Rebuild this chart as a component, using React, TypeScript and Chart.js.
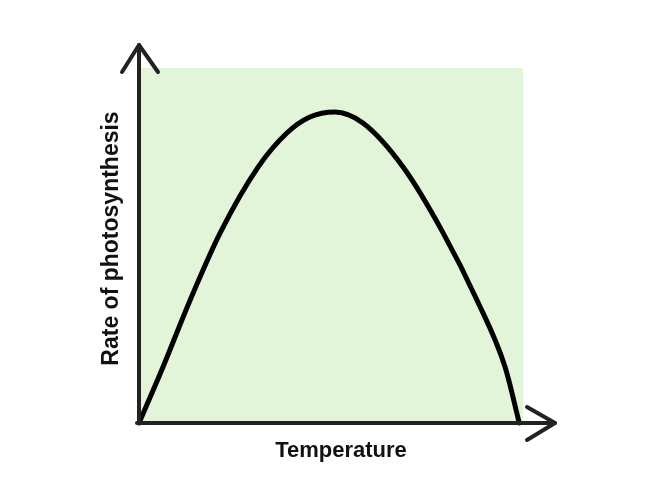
import React, { useEffect, useRef } from "react";
import { Chart, registerables } from "chart.js";

Chart.register(...registerables);

// Curve (arbitrary units: temperature 0-100, rate 0-100)
const temperature = [0, 6.25, 13.3, 21.1, 31.0, 38.5, 44.5, 51.0, 58.3, 68.75, 79.2, 88.0, 95.3, 99.0];
const rate = [0, 15.8, 34.6, 53.5, 72.1, 81.7, 86.2, 87.6, 84.5, 72.1, 53.5, 34.6, 15.8, 0];

const xTitle = "Temperature";
const yTitle = "Rate of photosynthesis";

const X_MAX = 108.3; // arrow tip
const Y_MAX = 106.5; // arrow tip
const PANEL_MAX_X = 100;
const PANEL_MAX_Y = 100;

const FONT = "'Liberation Sans', Arial, sans-serif";

const diagramPlugin = {
  id: "diagram",
  beforeDatasetsDraw(chart: any) {
    const { ctx, scales } = chart;
    const xs = scales.x;
    const ys = scales.y;
    const x0 = xs.getPixelForValue(0);
    const x1 = xs.getPixelForValue(PANEL_MAX_X);
    const y0 = ys.getPixelForValue(0);
    const y1 = ys.getPixelForValue(PANEL_MAX_Y);
    ctx.save();
    ctx.fillStyle = "rgb(227,245,216)";
    ctx.fillRect(x0, y1, x1 - x0, y0 - y1);
    ctx.restore();
  },
  afterDatasetsDraw(chart: any) {
    const { ctx, scales } = chart;
    const xs = scales.x;
    const ys = scales.y;
    const ox = xs.getPixelForValue(0);
    const oy = ys.getPixelForValue(0);
    const xe = xs.getPixelForValue(X_MAX);
    const ye = ys.getPixelForValue(Y_MAX);
    ctx.save();
    ctx.strokeStyle = "#222";
    ctx.lineWidth = 4;
    ctx.lineCap = "round";
    ctx.lineJoin = "round";
    // y axis
    ctx.beginPath();
    ctx.moveTo(ox, oy);
    ctx.lineTo(ox, ye);
    ctx.stroke();
    ctx.beginPath();
    ctx.moveTo(ox - 17, ye + 27);
    ctx.lineTo(ox, ye);
    ctx.lineTo(ox + 19, ye + 27);
    ctx.stroke();
    // x axis
    ctx.beginPath();
    ctx.moveTo(ox - 2, oy);
    ctx.lineTo(xe, oy);
    ctx.stroke();
    ctx.beginPath();
    ctx.moveTo(xe - 28, oy - 16);
    ctx.lineTo(xe, oy);
    ctx.lineTo(xe - 28, oy + 17);
    ctx.stroke();

    // titles
    ctx.fillStyle = "#111";
    ctx.font = `bold 22px ${FONT}`;
    ctx.textAlign = "center";
    ctx.textBaseline = "alphabetic";
    ctx.fillText(xTitle, 341, 457);

    ctx.save();
    ctx.translate(118, 238.5);
    ctx.rotate(-Math.PI / 2);
    ctx.font = `bold 23px ${FONT}`;
    ctx.fillText(yTitle, 0, 0);
    ctx.restore();
    ctx.restore();
  },
};

export default function App() {
  const canvasRef = useRef<HTMLCanvasElement | null>(null);

  useEffect(() => {
    const canvas = canvasRef.current;
    if (!canvas) return;
    const chart = new Chart(canvas, {
      type: "line",
      data: {
        datasets: [
          {
            data: temperature.map((t, i) => ({ x: t, y: rate[i] })),
            borderColor: "#000",
            borderWidth: 5,
            pointRadius: 0,
            fill: false,
            cubicInterpolationMode: "monotone",
            borderCapStyle: "round",
            clip: false as any,
          },
        ],
      },
      options: {
        animation: false,
        responsive: false,
        maintainAspectRatio: false,
        layout: { padding: { left: 139, right: 112, top: 45, bottom: 77 } },
        plugins: {
          legend: { display: false },
          tooltip: { enabled: false },
          title: { display: false },
        },
        scales: {
          x: { type: "linear", min: 0, max: X_MAX, display: false },
          y: { type: "linear", min: 0, max: Y_MAX, display: false },
        },
      },
      plugins: [diagramPlugin],
    });
    return () => chart.destroy();
  }, []);

  return (
    <div style={{ position: "fixed", left: 0, top: 0, width: 667, height: 500, background: "#fff" }}>
      <canvas ref={canvasRef} width={667} height={500} style={{ width: 667, height: 500, display: "block" }} />
    </div>
  );
}
